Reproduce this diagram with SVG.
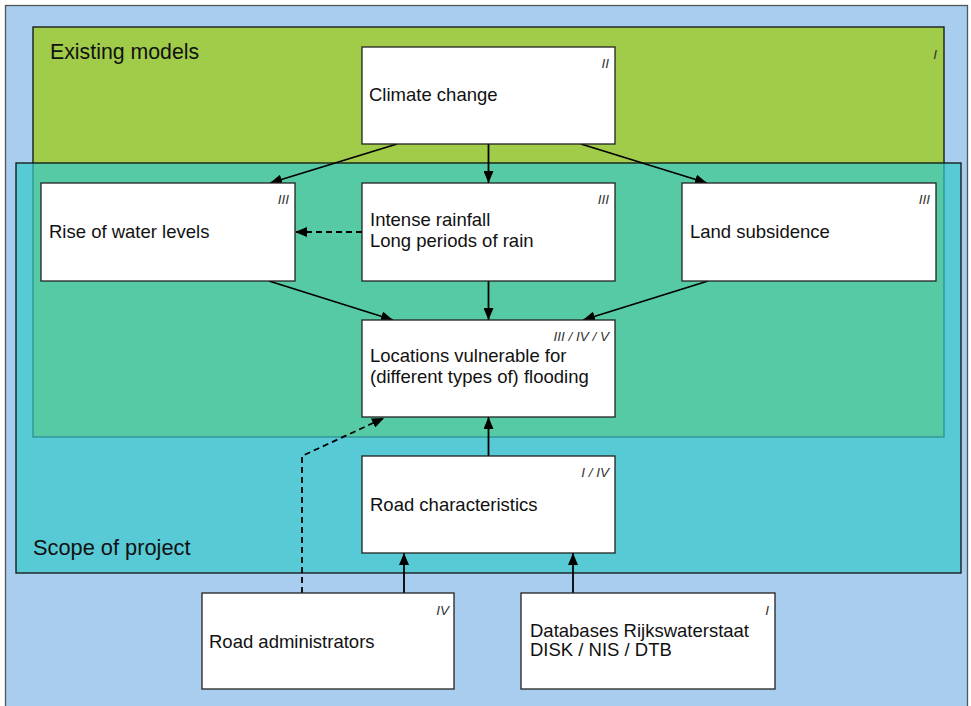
<svg xmlns="http://www.w3.org/2000/svg" width="971" height="706" viewBox="0 0 971 706">
<defs>
<marker id="ah" viewBox="0 0 12 10" refX="12" refY="5" markerWidth="12" markerHeight="10" markerUnits="userSpaceOnUse" orient="auto">
<path d="M0,0 L12,5 L0,10 Z" fill="#000"/>
</marker>
<style>
text{font-family:"Liberation Sans",Arial,sans-serif;fill:#111}
.lbl{font-size:18.5px}
.num{font-size:13.5px;font-style:italic;text-anchor:end;fill:#333}
.box{fill:#fff;stroke:#222;stroke-width:1.3}
.c{fill:none;stroke:#000;stroke-width:1.8;marker-end:url(#ah)}
.d{stroke-dasharray:6 4}
</style>
</defs>
<g id="background">
<rect x="5.5" y="5.5" width="962" height="710" fill="#A9CDEF" stroke="#555" stroke-width="1.3"/>
</g>
<g id="existing-models">
<rect x="33" y="27" width="911" height="410" fill="#A0CC4A" stroke="#111" stroke-width="1.3"/>
<text x="50" y="59" style="font-size:21.3px">Existing models</text>
<text class="num" x="937" y="59">I</text>
</g>
<g id="scope-of-project">
<rect x="16" y="163" width="945" height="410" fill="#35C9CB" fill-opacity="0.7" stroke="#111" stroke-width="1.3"/>
<text x="33" y="555" style="font-size:21.8px">Scope of project</text>
</g>
<g id="connectors">
<line class="c" x1="397" y1="144" x2="270" y2="183"/>
<line class="c" x1="488.5" y1="144" x2="488.5" y2="183"/>
<line class="c" x1="581" y1="144" x2="707" y2="183"/>
<line class="c d" x1="362" y1="232" x2="295" y2="232"/>
<line class="c" x1="269" y1="281" x2="393" y2="320"/>
<line class="c" x1="488.5" y1="281" x2="488.5" y2="320"/>
<line class="c" x1="708" y1="281" x2="583" y2="320"/>
<line class="c" x1="488.5" y1="456" x2="488.5" y2="417"/>
<polyline class="c d" points="302,593 302,456 384,418"/>
<line class="c" x1="404" y1="593" x2="404" y2="553"/>
<line class="c" x1="573" y1="593" x2="573" y2="553"/>
</g>
<g id="climate-change">
<rect class="box" x="362" y="47" width="253" height="97"/>
<text class="lbl" x="369" y="101">Climate change</text>
<text class="num" x="609" y="68">II</text>
</g>
<g id="rise-of-water-levels">
<rect class="box" x="41" y="183" width="254" height="98"/>
<text class="lbl" x="49" y="238">Rise of water levels</text>
<text class="num" x="289" y="204">III</text>
</g>
<g id="intense-rainfall">
<rect class="box" x="362" y="183" width="253" height="98"/>
<text class="lbl" x="370" y="226">Intense rainfall</text>
<text class="lbl" x="370" y="247">Long periods of rain</text>
<text class="num" x="609" y="204">III</text>
</g>
<g id="land-subsidence">
<rect class="box" x="682" y="183" width="254" height="98"/>
<text class="lbl" x="690" y="238">Land subsidence</text>
<text class="num" x="930" y="204">III</text>
</g>
<g id="locations-vulnerable">
<rect class="box" x="362" y="320" width="253" height="97"/>
<text class="lbl" x="370" y="362">Locations vulnerable for</text>
<text class="lbl" x="370" y="383">(different types of) flooding</text>
<text class="num" x="609" y="341">III / IV / V</text>
</g>
<g id="road-characteristics">
<rect class="box" x="362" y="456" width="253" height="97"/>
<text class="lbl" x="370" y="511">Road characteristics</text>
<text class="num" x="609" y="477">I / IV</text>
</g>
<g id="road-administrators">
<rect class="box" x="202" y="593" width="252" height="96"/>
<text class="lbl" x="209" y="648">Road administrators</text>
<text class="num" x="449" y="615">IV</text>
</g>
<g id="databases-rijkswaterstaat">
<rect class="box" x="521" y="593" width="254" height="96"/>
<text class="lbl" x="530" y="637">Databases Rijkswaterstaat</text>
<text class="lbl" x="530" y="656">DISK / NIS / DTB</text>
<text class="num" x="769" y="615">I</text>
</g>
</svg>
